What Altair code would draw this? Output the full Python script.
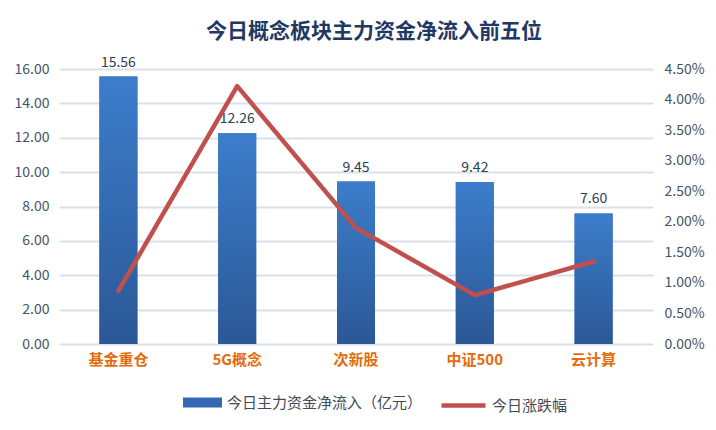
import altair as alt
import pandas as pd

categories = ["基金重仓", "5G概念", "次新股", "中证500", "云计算"]
inflow = [15.56, 12.26, 9.45, 9.42, 7.60]
change = [0.0087, 0.0422, 0.0190, 0.0080, 0.0135]
bar_name = "今日主力资金净流入（亿元）"
line_name = "今日涨跌幅"
left_ticks = [0, 2, 4, 6, 8, 10, 12, 14, 16]
right_ticks = [0, 0.005, 0.01, 0.015, 0.02, 0.025, 0.03, 0.035, 0.04, 0.045]

df = pd.DataFrame({
    "cat": categories,
    "inflow": inflow,
    "change": change,
    "s1": [bar_name] * len(categories),
    "s2": [line_name] * len(categories),
})

FONT = "Noto Sans CJK SC"
AXIS_COLOR = "#44546A"

x = alt.X(
    "cat:N", sort=categories,
    scale=alt.Scale(paddingInner=0.68, paddingOuter=0.34),
    axis=alt.Axis(title=None, labelAngle=0, labelColor="#E46C0A", labelFontSize=15,
                  labelFontWeight="bold", labelPadding=8, ticks=False, domain=False,
                  labelFont=FONT),
)

yL = alt.Y(
    "inflow:Q",
    scale=alt.Scale(domain=[0, 16], nice=False),
    axis=alt.Axis(title=None, values=left_ticks, format=".2f", labelColor=AXIS_COLOR,
                  labelFontSize=14, labelPadding=10, ticks=False, domain=False,
                  grid=True, gridColor="#D9E1EA", gridWidth=2, labelFont=FONT),
)

base_bar = alt.Chart(df).mark_bar().encode(
    x=x, y=yL,
    fill=alt.Fill("s1:N", scale=alt.Scale(domain=[bar_name], range=["#3468B4"]),
                  legend=alt.Legend(title=None, orient="none", legendX=124, legendY=314,
                                    symbolType="M-1,-0.26H1V0.26H-1Z", symbolSize=1521,
                                    symbolStrokeWidth=0, symbolOpacity=1,
                                    labelFontSize=15, labelColor="#3F4A5A", labelFont=FONT,
                                    labelOffset=5, labelLimit=0, padding=0)),
)

grad_bar = alt.Chart(df).mark_bar(
    fill={"gradient": "linear", "x1": 0, "y1": 0, "x2": 0, "y2": 1,
          "stops": [{"offset": 0, "color": "#3C7DCB"}, {"offset": 1, "color": "#2B5896"}]}
).encode(x=x, y=yL)

text = alt.Chart(df).mark_text(dy=-7, baseline="bottom", fontSize=14, color="#2E3D55",
                               font=FONT).encode(
    x=x, y=yL, text=alt.Text("inflow:Q", format=".2f"))

bars = alt.layer(base_bar, grad_bar, text)

line = alt.Chart(df).mark_line(strokeWidth=4.5, strokeCap="round", strokeJoin="round").encode(
    x=x,
    y=alt.Y("change:Q", scale=alt.Scale(domain=[0, 0.045], nice=False),
            axis=alt.Axis(title=None, orient="right", values=right_ticks, format=".2%",
                          labelColor=AXIS_COLOR, labelFontSize=14, labelPadding=11,
                          ticks=False, domain=False, grid=False, labelFont=FONT)),
    stroke=alt.Stroke("s2:N", scale=alt.Scale(domain=[line_name], range=["#C0504D"]),
                      legend=alt.Legend(title=None, orient="none", legendX=380, legendY=312,
                                        symbolType="stroke", symbolSize=1936,
                                        symbolStrokeWidth=4.5, labelFontSize=15,
                                        labelColor="#3F4A5A", labelFont=FONT,
                                        labelOffset=4, labelLimit=0, padding=0)),
)

chart = alt.layer(bars, line).resolve_scale(y="independent").properties(
    width=594, height=275,
    autosize=alt.AutoSizeParams(type="none"),
    padding={"left": 51, "top": 61, "right": 55, "bottom": 78},
    title=alt.Title("今日概念板块主力资金净流入前五位", fontSize=21, fontWeight="bold",
                    color="#1F3864", font=FONT, anchor="middle", offset=14, dx=18),
    background="white",
).configure_view(stroke=None)

chart.save("out.html", embed_options={"renderer": "svg", "actions": False})
